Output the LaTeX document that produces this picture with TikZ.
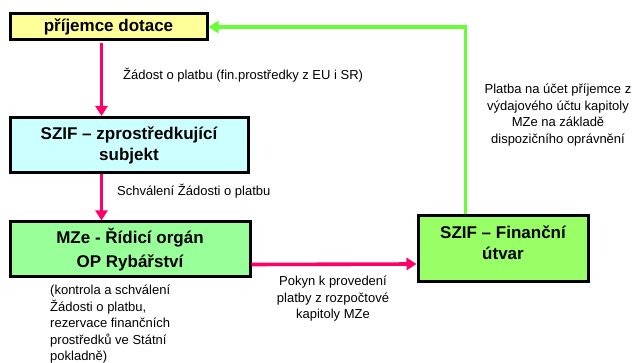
\documentclass[tikz,border=0pt]{standalone}
\usepackage{fontspec}
\setmainfont{Liberation Sans}
\usetikzlibrary{positioning, arrows.meta}
\definecolor{boxyellow}{HTML}{FFFF99}
\definecolor{boxcyan}{HTML}{CCFFFF}
\definecolor{boxgreen}{HTML}{99FF99}
\definecolor{fingreen}{HTML}{99FF66}
\definecolor{arrpink}{HTML}{FF0066}
\definecolor{arrgreen}{HTML}{66FF33}
\tikzset{
  box/.style={draw=black, line width=3pt, font=\bfseries\fontsize{17}{21}\selectfont, align=center, inner sep=0pt},
  note/.style={font=\fontsize{13}{16.5}\selectfont, inner sep=0pt},
  pinkarr/.style={draw=arrpink, line width=3.6pt, -{Triangle[length=10pt,width=12pt]}},
  greenarr/.style={draw=arrgreen, line width=3.6pt, -{Triangle[length=10pt,width=12pt]}}
}
\begin{document}
\begin{tikzpicture}[x=1pt,y=-1pt]
\useasboundingbox (0,0) rectangle (633,363);

\node[box,fill=boxyellow,minimum width=197pt,minimum height=26pt](prij) at (108.5,27) {příjemce dotace};
\node[box,fill=boxcyan,minimum width=238pt,minimum height=55pt](szif) at (129,145) {SZIF – zprostředkující\\subjekt};
\node[box,fill=boxgreen,minimum width=240pt,minimum height=55pt](mze) at (130,249.5) {MZe - Řídicí orgán\\[3pt]OP Rybářství};
\node[box,fill=fingreen,minimum width=170pt,minimum height=66pt,text depth=12pt](fin) at (503,249) {SZIF – Finanční\\útvar};

\node[note,anchor=west](zadost) at (123,75) {Žádost o platbu (fin.prostředky z EU i SR)};
\node[note,anchor=west](schval) at (117,191) {Schválení Žádosti o platbu};
\node[note,anchor=north west,align=left](kontrola) at (50,285) {(kontrola a schválení\\Žádosti o platbu,\\rezervace finančních\\prostředků ve Státní\\pokladně)};
\node[note,align=center](pokyn) at (333,299) {Pokyn k provedení\\platby z rozpočtové\\kapitoly MZe};
\node[note,align=center](platba) at (558,115) {Platba na účet příjemce z\\výdajového účtu kapitoly\\MZe na základě\\dispozičního oprávnění};

\draw[pinkarr] ([xshift=93pt,yshift=-2pt]prij.south west) -- ([xshift=93pt]szif.north west);
\draw[pinkarr] ([xshift=93pt]szif.south west) -- ([xshift=93pt]mze.north west);
\draw[pinkarr] ([yshift=-15pt]mze.east) -- ([yshift=-15pt]fin.west);
\draw[greenarr] ([xshift=49pt]fin.north west) |- (prij.east);

\end{tikzpicture}
\end{document}
